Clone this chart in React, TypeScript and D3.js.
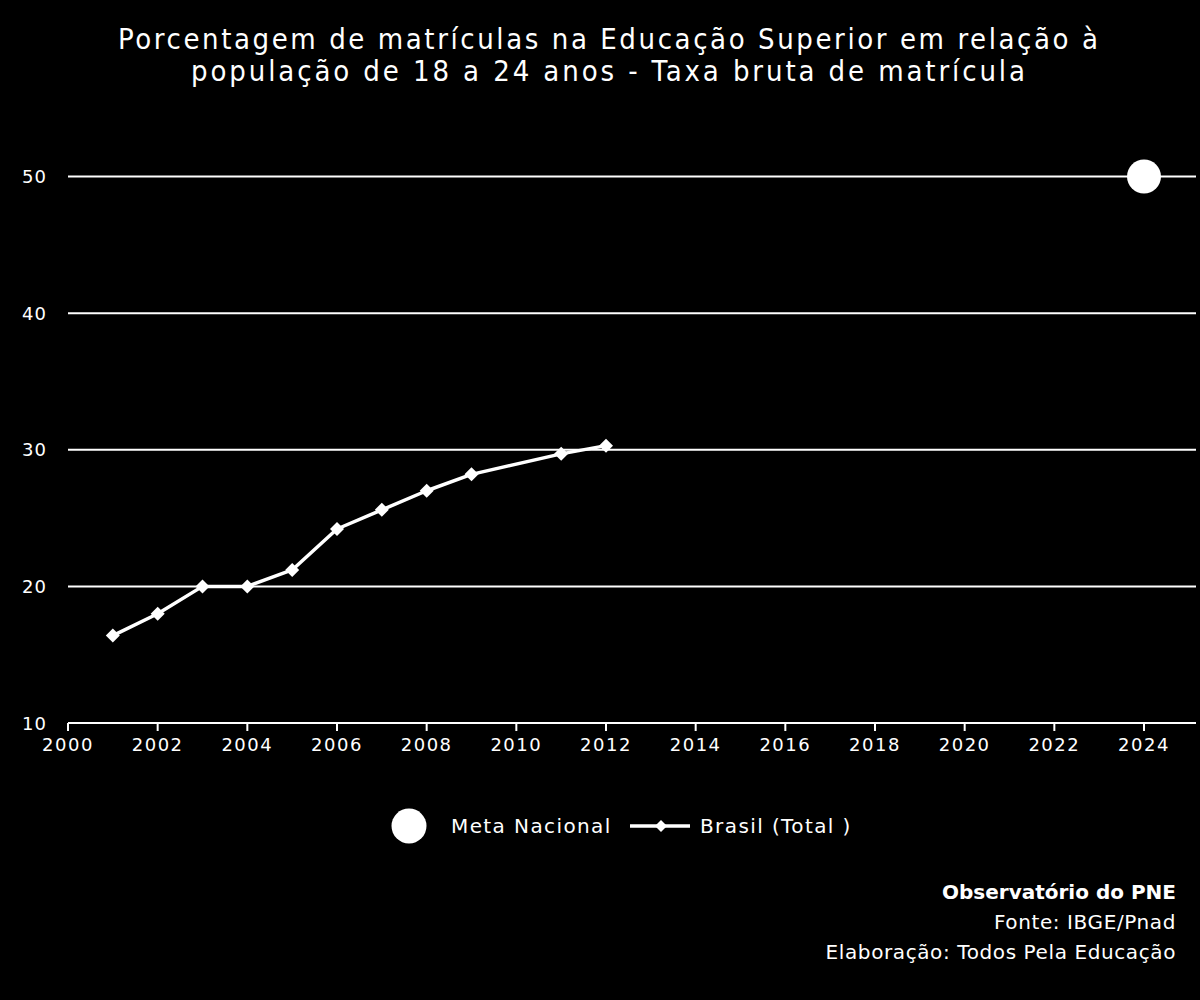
import React from "react";
import * as d3 from "d3";

const years = [2001, 2002, 2003, 2004, 2005, 2006, 2007, 2008, 2009, 2011, 2012];
const brasilTotal = [16.4, 18.0, 20.0, 20.0, 21.2, 24.2, 25.6, 27.0, 28.2, 29.7, 30.3];
const metaYears = [2024];
const metaValues = [50];
const yTicks = [10, 20, 30, 40, 50];
const xTicks = [2000, 2002, 2004, 2006, 2008, 2010, 2012, 2014, 2016, 2018, 2020, 2022, 2024];
const titleLines = [
  "Porcentagem de matrículas na Educação Superior em relação à",
  "população de 18 a 24 anos - Taxa bruta de matrícula",
];
const titleWidths = [980, 834];
const footerLines = ["Observatório do PNE", "Fonte: IBGE/Pnad", "Elaboração: Todos Pela Educação"];

export default function App() {
  const W = 1200, H = 1000;
  const left = 68, right = 1196;
  const x = d3.scaleLinear().domain([2000, 2024]).range([68, 1144]);
  const y = d3.scaleLinear().domain([10, 50]).range([723, 176.5]);
  const line = d3.line<number>().x((_, i) => x(years[i])).y((d) => y(d));
  const diamond = (cx: number, cy: number, s: number) =>
    `M${cx},${cy - s}L${cx + s},${cy}L${cx},${cy + s}L${cx - s},${cy}Z`;
  const font = "'DejaVu Sans', sans-serif";
  return (
    <svg width={W} height={H} style={{ position: "absolute", left: 0, top: 0, background: "#000" }}>
      <rect x={0} y={0} width={W} height={H} fill="#000" />
      {titleLines.map((t, i) => (
        <text key={i} x={608} y={49 + i * 32} textAnchor="middle" fill="#fff"
          fontFamily="'DejaVu Sans Condensed', 'DejaVu Sans', sans-serif" fontSize={29}
          textLength={titleWidths[i]} lengthAdjust="spacing">{t}</text>
      ))}
      {yTicks.filter((v) => v > 10).map((v) => (
        <line key={v} x1={left} x2={right} y1={y(v)} y2={y(v)} stroke="#fff" strokeWidth={2} />
      ))}
      <line x1={left} x2={right} y1={y(10)} y2={y(10)} stroke="#fff" strokeWidth={2} />
      {yTicks.map((v) => (
        <text key={v} x={47} y={y(v) + 6.5} textAnchor="end" fill="#fff" fontFamily={font} fontSize={18}
          letterSpacing={1}>{v}</text>
      ))}
      {xTicks.map((v) => (
        <g key={v}>
          <line x1={x(v)} x2={x(v)} y1={y(10)} y2={y(10) + 8} stroke="#fff" strokeWidth={2} />
          <text x={x(v)} y={y(10) + 28} textAnchor="middle" fill="#fff" fontFamily={font} fontSize={18}
            letterSpacing={1.5}>{v}</text>
        </g>
      ))}
      <path d={line(brasilTotal) || ""} fill="none" stroke="#fff" strokeWidth={3.5} strokeLinejoin="round" />
      {brasilTotal.map((v, i) => (
        <path key={i} d={diamond(x(years[i]), y(v), 7)} fill="#fff" />
      ))}
      {metaValues.map((v, i) => (
        <circle key={i} cx={x(metaYears[i])} cy={y(v)} r={17} fill="#fff" />
      ))}
      <circle cx={409} cy={826} r={17.5} fill="#fff" />
      <text x={451} y={833} fill="#fff" fontFamily={font} fontSize={20} letterSpacing={1.4}>Meta Nacional</text>
      <line x1={630} x2={690} y1={826} y2={826} stroke="#fff" strokeWidth={3.5} />
      <path d={diamond(661, 826, 6)} fill="#fff" />
      <text x={700} y={833} fill="#fff" fontFamily={font} fontSize={20} letterSpacing={1.4}>Brasil (Total )</text>
      {footerLines.map((t, i) => (
        <text key={i} x={1176} y={899 + i * 30} textAnchor="end" fill="#fff" fontFamily={font}
          fontSize={20} fontWeight={i === 0 ? "bold" : "normal"} letterSpacing={i === 0 ? 0 : 0.6}>{t}</text>
      ))}
    </svg>
  );
}
